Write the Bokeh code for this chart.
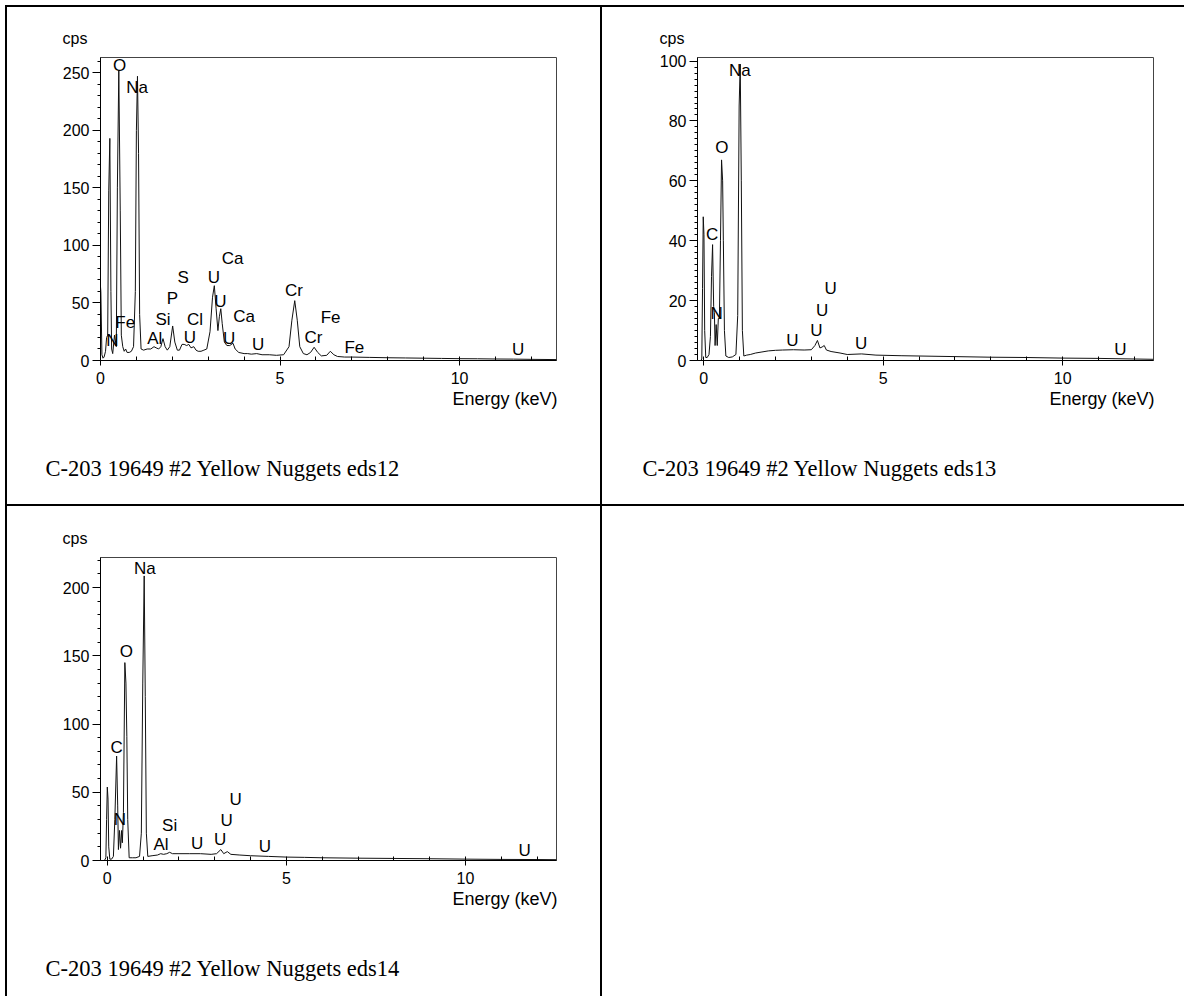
from bokeh.plotting import figure
from bokeh.models import LabelSet, Range1d, SingleIntervalTicker, Div, ColumnDataSource, Title
from bokeh.core.properties import value
from bokeh.layouts import column, row
from bokeh.embed import file_html
from bokeh.resources import INLINE

# ---------------- data: spectrum eds12 ----------------
eds12_energy = [0.00, 0.01, 0.04, 0.07, 0.10, 0.14, 0.17, 0.20, 0.23, 0.26, 0.29, 0.31, 0.34,
                0.39, 0.44, 0.47, 0.51, 0.55, 0.58, 0.62, 0.66, 0.70, 0.74, 0.80, 0.86, 0.92,
                0.97, 1.00, 1.03, 1.06, 1.09, 1.13, 1.20, 1.30, 1.40, 1.49, 1.55, 1.62, 1.68,
                1.74, 1.80, 1.86, 1.93, 2.01, 2.07, 2.14, 2.20, 2.27, 2.33, 2.40, 2.46, 2.52,
                2.60, 2.66, 2.72, 2.80, 2.88, 2.96, 3.05, 3.12, 3.17, 3.22, 3.27, 3.31, 3.35,
                3.39, 3.45, 3.52, 3.60, 3.69, 3.75, 3.85, 4.00, 4.10, 4.20, 4.35, 4.50, 4.70,
                4.90, 5.10, 5.25, 5.33, 5.41, 5.48, 5.55, 5.65, 5.75, 5.85, 5.95, 6.05, 6.15,
                6.30, 6.40, 6.50, 6.60, 6.80, 7.00, 7.50, 8.00, 8.50, 9.00, 9.50, 10.00, 10.50,
                11.00, 11.50, 12.00, 12.70]
eds12_cps = [64, 60, 5, 2, 3, 8, 20, 22, 148, 193, 60, 10, 6,
             22, 12, 150, 252, 130, 22, 12, 8, 10, 7, 7, 8, 12,
             60, 200, 247, 180, 40, 10, 9, 10, 10, 12, 11, 10, 12,
             19, 12, 9, 12, 30, 16, 9, 9, 14, 14, 13, 14, 11,
             12, 9, 8, 8, 9, 10, 25, 55, 65, 45, 26, 38, 45,
             32, 16, 13, 13, 15, 10, 7, 6, 6, 5.5, 6, 5, 5,
             4.5, 5, 12, 35, 52, 35, 12, 6, 5, 7, 11.5, 7, 4,
             4.5, 8, 5, 3.5, 3, 3, 2.7, 2.4, 2.2, 2.0, 1.8, 1.6, 1.5,
             1.3, 1.2, 1.0, 0.8]
eds12_lbl = ["O", "Na", "Fe", "N", "Al", "Si", "P", "S", "Cl", "U", "U", "Ca", "U", "Ca", "U", "U",
             "Cr", "Cr", "Fe", "Fe", "U"]
eds12_lbl_e = [0.53, 1.02, 0.69, 0.33, 1.51, 1.74, 2.00, 2.30, 2.63, 2.49, 3.16, 3.68, 3.34, 4.00,
               3.58, 4.39, 5.39, 5.93, 6.41, 7.07, 11.63]
eds12_lbl_c = [256, 237, 33, 17, 19, 36, 54, 72, 36, 20, 72, 89, 51, 38, 19, 14, 61, 20, 37, 11, 9.6]

# ---------------- data: spectrum eds13 ----------------
eds13_energy = [-0.08, -0.05, -0.03, -0.01, 0.01, 0.03, 0.06, 0.10, 0.15, 0.19, 0.22, 0.25, 0.28,
                0.30, 0.32, 0.35, 0.38, 0.41, 0.44, 0.47, 0.50, 0.53, 0.55, 0.58, 0.62, 0.70,
                0.80, 0.90, 0.95, 0.99, 1.02, 1.05, 1.08, 1.12, 1.20, 1.30, 1.45, 1.60, 1.80,
                2.00, 2.20, 2.50, 2.80, 3.00, 3.10, 3.17, 3.24, 3.30, 3.36, 3.42, 3.55, 3.80,
                4.00, 4.40, 4.80, 5.50, 6.00, 7.00, 8.00, 9.00, 10.00, 11.00, 12.00, 12.53]
eds13_cps = [0, 0.5, 24, 48, 42, 10, 1, 1, 2, 8, 28, 38.7, 18,
             16, 5, 12, 5, 14, 14, 40, 67, 60, 40, 10, 1.5, 1,
             1.2, 2, 15, 85, 99, 60, 10, 1.5, 1.8, 2, 2.5, 2.8, 3.2,
             3.4, 3.5, 3.6, 3.5, 3.6, 5, 6.7, 4.2, 4.5, 5, 3.5, 3, 2.5,
             2, 2.2, 1.8, 1.6, 1.5, 1.3, 1.1, 1.0, 0.8, 0.7, 0.5, 0.4]
eds13_lbl = ["Na", "O", "C", "N", "U", "U", "U", "U", "U", "U"]
eds13_lbl_e = [1.01, 0.51, 0.24, 0.36, 3.54, 3.30, 3.14, 2.47, 4.39, 11.61]
eds13_lbl_c = [97, 71, 42, 15.6, 24, 16.7, 10, 6.7, 5.6, 3.7]

# ---------------- data: spectrum eds14 ----------------
eds14_energy = [-0.08, -0.04, -0.02, 0.00, 0.02, 0.04, 0.07, 0.12, 0.17, 0.21, 0.26, 0.29, 0.31,
                0.34, 0.37, 0.40, 0.42, 0.45, 0.49, 0.52, 0.545, 0.57, 0.61, 0.70, 0.80, 0.90,
                0.95, 0.99, 1.03, 1.06, 1.09, 1.13, 1.25, 1.40, 1.49, 1.57, 1.66, 1.74, 1.82,
                2.00, 2.30, 2.60, 2.90, 3.05, 3.17, 3.25, 3.35, 3.45, 3.70, 4.00, 4.50, 5.00,
                5.50, 6.00, 7.00, 8.00, 9.00, 10.00, 11.00, 12.00, 12.54]
eds14_cps = [0, 2, 30, 53.8, 45, 10, 1, 1, 3, 30, 76.5, 40, 8,
             22, 9, 22, 13, 35, 145, 130, 91, 30, 2, 2, 2, 3,
             20, 130, 208.5, 120, 20, 3, 3.5, 4, 5, 4.5, 5, 6, 5,
             5, 5, 5, 4.5, 5, 8, 5, 6.5, 4.5, 4, 3.5, 3, 2.5,
             2.3, 2, 1.7, 1.5, 1.3, 1.0, 0.8, 0.7, 0.6]
eds14_lbl = ["Na", "O", "C", "N", "Al", "Si", "U", "U", "U", "U", "U", "U"]
eds14_lbl_e = [1.05, 0.53, 0.26, 0.35, 1.50, 1.74, 2.51, 3.15, 3.33, 3.58, 4.40, 11.65]
eds14_lbl_c = [214, 153, 83, 30, 11.7, 26, 12.5, 15.4, 29.6, 45, 10, 7.6]

captions = ["C-203 19649 #2 Yellow Nuggets eds12",
            "C-203 19649 #2 Yellow Nuggets eds13",
            "C-203 19649 #2 Yellow Nuggets eds14"]
x_title = "Energy (keV)"
y_title = "cps"

SANS = "Liberation Sans"
SERIF = "Liberation Serif"
LINE = "#111111"


def panel(energy, cps, lbl, lbl_e, lbl_c, caption, xr, yr, y_int, y_minor,
          width, height, mbl, mbr, mbt, mbb):
    p = figure(width=width, height=height, x_range=Range1d(*xr), y_range=Range1d(*yr),
               output_backend="svg", toolbar_location=None,
               min_border_left=mbl, min_border_right=mbr,
               min_border_top=mbt, min_border_bottom=mbb)
    p.background_fill_color = "white"
    p.border_fill_color = "white"
    p.outline_line_color = "#444444"
    p.outline_line_width = 1
    p.xgrid.visible = False
    p.ygrid.visible = False

    p.xaxis.ticker = SingleIntervalTicker(interval=5, num_minor_ticks=5)
    p.yaxis.ticker = SingleIntervalTicker(interval=y_int, num_minor_ticks=y_minor)
    for ax in (p.xaxis[0], p.yaxis[0]):
        ax.axis_line_color = "black"
        ax.axis_line_width = 1
        ax.major_tick_line_color = "black"
        ax.minor_tick_line_color = "black"
        ax.major_label_text_font = SANS
        ax.major_label_text_font_size = "16px"
        ax.major_label_text_color = "black"
    p.xaxis.major_tick_in = 0
    p.xaxis.major_tick_out = 5
    p.xaxis.minor_tick_in = 4
    p.xaxis.minor_tick_out = 0
    p.xaxis.major_label_standoff = 6
    p.yaxis.major_tick_in = 0
    p.yaxis.major_tick_out = 8
    p.yaxis.minor_tick_in = 0
    p.yaxis.minor_tick_out = 3
    p.yaxis.major_label_standoff = 3

    p.line(energy, cps, line_color=LINE, line_width=1)

    src = ColumnDataSource(dict(x=lbl_e, y=lbl_c, t=lbl))
    p.add_layout(LabelSet(x="x", y="y", text="t", source=src, text_align="center",
                          text_baseline="middle", text_font=value(SANS),
                          text_font_size=value("17px"), text_color="black"))

    # texts outside the frame: titles in the side panels
    p.add_layout(Title(text=y_title, align="left", offset=-38, standoff=22,
                       text_font=SANS, text_font_size="16px", text_font_style="normal",
                       text_color="black"), "above")
    p.add_layout(Title(text=x_title, align="right", offset=-1, standoff=0,
                       text_font=SANS, text_font_size="18px", text_font_style="normal",
                       text_color="black"), "below")
    # blank spacer panel between the axis title and the caption
    p.add_layout(Title(text=" ", standoff=32, text_font=SANS, text_font_size="10px",
                       text_font_style="normal"), "below")
    p.add_layout(Title(text=caption, align="left", offset=-55, standoff=0,
                       text_font=SERIF, text_font_size="22.5px", text_font_style="normal",
                       text_color="black"), "below")
    return p


def bar(w, h):
    return Div(text="", width=w, height=h, margin=0,
               styles={"background-color": "black"})


p1 = panel(eds12_energy, eds12_cps, eds12_lbl, eds12_lbl_e, eds12_lbl_c, captions[0],
           (0.0, 12.7), (0, 263.3), 50, 5, 593, 497, 93, 44, 50, 144)
p2 = panel(eds13_energy, eds13_cps, eds13_lbl, eds13_lbl_e, eds13_lbl_c, captions[1],
           (-0.17, 12.53), (0, 101.2), 20, 10, 582, 497, 95, 31, 50, 144)
p3 = panel(eds14_energy, eds14_cps, eds14_lbl, eds14_lbl_e, eds14_lbl_c, captions[2],
           (-0.19, 12.54), (0, 222), 50, 5, 593, 490, 93, 44, 51, 136)

layout = column(
    bar(1179, 2),
    row(bar(2, 497), p1, bar(2, 497), p2),
    bar(1179, 2),
    row(bar(2, 490), p3, bar(2, 490)),
    margin=(5, 0, 0, 5),
)

open("out.html", "w").write(file_html(layout, INLINE))
